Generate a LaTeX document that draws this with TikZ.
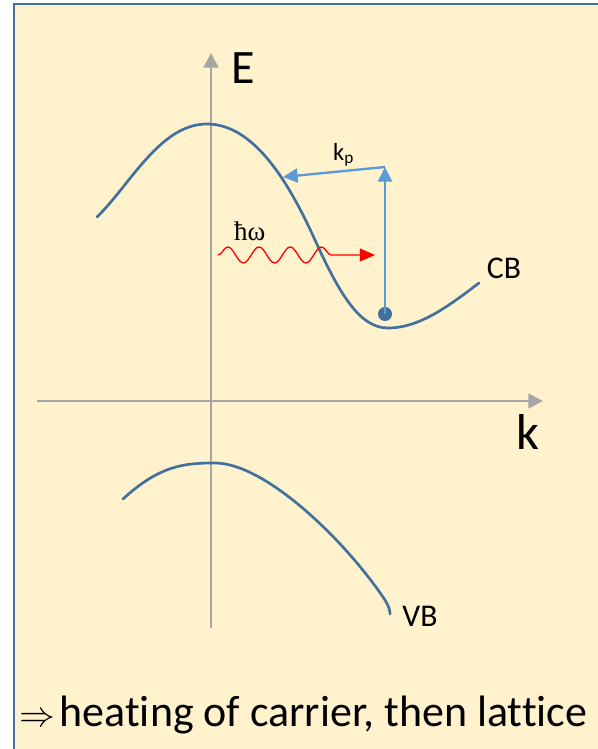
\documentclass[tikz,border=0pt]{standalone}
\usepackage{graphicx}
\usepackage{fontspec}
\setmainfont{Carlito}[Ligatures=CommonOff]
\newfontfamily\greekfont{Liberation Serif}
\usetikzlibrary{arrows.meta,decorations.pathmorphing}
\definecolor{paper}{HTML}{FFF2CC}
\definecolor{band}{HTML}{41719C}
\definecolor{kick}{HTML}{5B9BD5}
\definecolor{axisgray}{HTML}{A6A6A6}

\begin{document}
\begin{tikzpicture}[
  x=0.03cm, y=-0.03cm,
  axis/.style={draw=axisgray, line width=2.4pt, -{Triangle[length=12.5pt,width=12.5pt]}},
  bandline/.style={draw=band, line width=2.3pt, line cap=round},
  kickarrow/.style={draw=kick, line width=2pt, -{Triangle[length=12.5pt,width=12pt]}},
  photon/.style={draw=red, line width=1.1pt, -{Triangle[length=13pt,width=11pt]},
                 decorate, decoration={snake, segment length=0.9375cm, amplitude=0.24cm, post length=0.96cm}},
  electron/.style={circle, fill=band, minimum size=0.42cm, inner sep=0pt},
  lbl/.style={inner sep=0pt, font=\fontsize{27}{30}\selectfont}
]
% frame
\useasboundingbox (0,0) rectangle (598,749);
\fill[paper] (14,4) rectangle (598,749);
\draw[band, line width=2.3pt] (14,749) -- (14,4) -- (598,4);

% axes
\coordinate (ebot) at (211,628);
\coordinate (etop) at (211,53);
\coordinate (kleft) at (37,401);
\coordinate (kright) at (543,401);
\draw[axis] (ebot) -- (etop);
\draw[axis] (kleft) -- (kright);
\node[lbl, font=\fontsize{41}{44}\selectfont] (elabel) at (243,68) {E};
\node[lbl, font=\fontsize{43}{46}\selectfont] (klabel) at (528,432) {k};

% bands
\draw[bandline] (97,217) .. controls (130,185) and (160,124) .. (207,124)
  .. controls (255,124) and (290,185) .. (315,240)
  .. controls (340,295) and (360,328) .. (388,328)
  .. controls (420,328) and (450,305) .. (479,283);
\draw[bandline] (123,499) .. controls (160,465) and (185,463) .. (215,463)
  .. controls (265,463) and (345,540) .. (385,600)
  .. controls (389,607) and (390,610) .. (390,614);
\node[lbl] (cb) at (504,268) {CB};
\node[lbl] (vb) at (420,616) {VB};

% carrier kick
\node[electron] (dot) at (385,314) {};
\coordinate (ktop) at (385,167);
\coordinate (kend) at (283,177);
\draw[kickarrow] (dot.center) -- (ktop);
\draw[kickarrow] (ktop) -- (kend);
\node[lbl, anchor=base west, font=\fontsize{21}{24}\selectfont] (kp) at (333,160) {k\textsubscript{p}};

% photon
\coordinate (wstart) at (218,255);
\coordinate (wend) at (375,255);
\draw[photon] (wstart) -- (wend);
\node[lbl, anchor=base west, font=\greekfont\fontsize{23}{26}\selectfont] (hw) at (234,240) {ħω};

% note
\node[lbl, anchor=base west, font=\fontsize{37.5}{40}\selectfont] (note) at (19,726) {\resizebox{30.5pt}{!}{$\Rightarrow$}\hspace{4pt}heating of carrier, then lattice};
\end{tikzpicture}
\end{document}
